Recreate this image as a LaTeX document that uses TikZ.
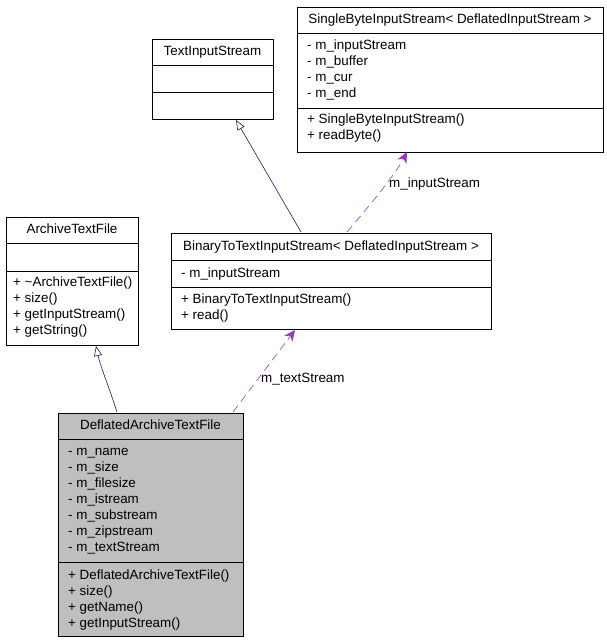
\documentclass[tikz,border=0pt]{standalone}
\usepackage{fontspec}
\setmainfont{Liberation Sans}
\usetikzlibrary{arrows.meta}
\definecolor{inh}{HTML}{191970}
\definecolor{use}{HTML}{9A32CD}
\definecolor{hl}{HTML}{BFBFBF}
\tikzset{
  classbox/.style={draw=black, line width=0.8pt, inner sep=0pt},
  txt/.style={inner sep=0pt, text height=9.5pt, text depth=2.5pt, font=\fontsize{13.4}{15}\selectfont},
  member/.style={txt, anchor=west},
  ctitle/.style={txt, anchor=center},
  inherit/.style={draw=inh, line width=0.6pt, -{Triangle[open, length=10pt, width=8pt]}},
  usage/.style={draw=use, line width=0.6pt, dash pattern=on 8pt off 5pt, -{Stealth[length=11pt, width=10pt]}},
  elabel/.style={txt},
}
\begin{document}
\begin{tikzpicture}[x=1pt,y=-1pt]
\useasboundingbox (0,0) rectangle (607,643);
% SingleByteInputStream
\draw[classbox] (297,7) rectangle (603,152);
\node[classbox, draw=none, minimum width=306pt, minimum height=145pt] (sbis) at (450,79.5) {};
\draw[line width=0.8pt] (297,33) -- (603,33) (297,108) -- (603,108);
\node[ctitle] (sbis-t) at (450,20) {SingleByteInputStream< DeflatedInputStream >};
\node[member] (sbis-a1) at (307,46) {- m\_inputStream};
\node[member] (sbis-a2) at (307,62) {- m\_buffer};
\node[member] (sbis-a3) at (307,78) {- m\_cur};
\node[member] (sbis-a4) at (307,94) {- m\_end};
\node[member] (sbis-m1) at (307,120) {+ SingleByteInputStream()};
\node[member] (sbis-m2) at (307,136) {+ readByte()};
% TextInputStream
\draw[classbox] (152,39) rectangle (273,119);
\node[draw=none, minimum width=121pt, minimum height=80pt, inner sep=0pt] (tis) at (212.5,79) {};
\draw[line width=0.8pt] (152,65) -- (273,65) (152,92) -- (273,92);
\node[ctitle] (tis-t) at (212.5,52) {TextInputStream};
% ArchiveTextFile
\draw[classbox] (6,217) rectangle (138,345);
\node[draw=none, minimum width=132pt, minimum height=128pt, inner sep=0pt] (atf) at (72,281) {};
\draw[line width=0.8pt] (6,243) -- (138,243) (6,271) -- (138,271);
\node[ctitle] (atf-t) at (72,230) {ArchiveTextFile};
\node[member] (atf-m1) at (13,283) {+ \textasciitilde ArchiveTextFile()};
\node[member] (atf-m2) at (13,299) {+ size()};
\node[member] (atf-m3) at (13,315) {+ getInputStream()};
\node[member] (atf-m4) at (13,331) {+ getString()};
% BinaryToTextInputStream
\draw[classbox] (171,233) rectangle (491,329);
\node[draw=none, minimum width=320pt, minimum height=96pt, inner sep=0pt] (btis) at (331,281) {};
\draw[line width=0.8pt] (171,260) -- (491,260) (171,287) -- (491,287);
\node[ctitle] (btis-t) at (331,246.5) {BinaryToTextInputStream< DeflatedInputStream >};
\node[member] (btis-a1) at (181,273.5) {- m\_inputStream};
\node[member] (btis-m1) at (181,300) {+ BinaryToTextInputStream()};
\node[member] (btis-m2) at (181,316) {+ read()};
% DeflatedArchiveTextFile
\draw[classbox, fill=hl] (58,413) rectangle (243,636);
\node[draw=none, minimum width=185pt, minimum height=223pt, inner sep=0pt] (datf) at (150.5,524.5) {};
\draw[line width=0.8pt] (58,439) -- (243,439) (58,562) -- (243,562);
\node[ctitle] (datf-t) at (150.5,426) {DeflatedArchiveTextFile};
\node[member] (datf-a1) at (68,452) {- m\_name};
\node[member] (datf-a2) at (68,468) {- m\_size};
\node[member] (datf-a3) at (68,484) {- m\_filesize};
\node[member] (datf-a4) at (68,500) {- m\_istream};
\node[member] (datf-a5) at (68,516) {- m\_substream};
\node[member] (datf-a6) at (68,532) {- m\_zipstream};
\node[member] (datf-a7) at (68,548) {- m\_textStream};
\node[member] (datf-m1) at (68,576) {+ DeflatedArchiveTextFile()};
\node[member] (datf-m2) at (68,592) {+ size()};
\node[member] (datf-m3) at (68,608) {+ getName()};
\node[member] (datf-m4) at (68,624) {+ getInputStream()};
% connectors
\coordinate (c1s) at (117,412);
\coordinate (c1e) at (96,346);
\draw[inherit] (c1s) .. controls (110,390) and (100,365) .. (c1e);
\coordinate (c2s) at (301,232);
\coordinate (c2e) at (236,120);
\draw[inherit] (c2s) -- (c2e);
\coordinate (c3s) at (347,232);
\coordinate (c3e) at (407,152);
\draw[usage] (c3s) .. controls (370,205) and (395,175) .. (c3e);
\node[elabel, anchor=west] (l3) at (389,184) {m\_inputStream};
\coordinate (c4s) at (233,412);
\coordinate (c4e) at (295,330);
\draw[usage] (c4s) -- (c4e);
\node[elabel, anchor=west] (l4) at (261,379) {m\_textStream};
\end{tikzpicture}
\end{document}
